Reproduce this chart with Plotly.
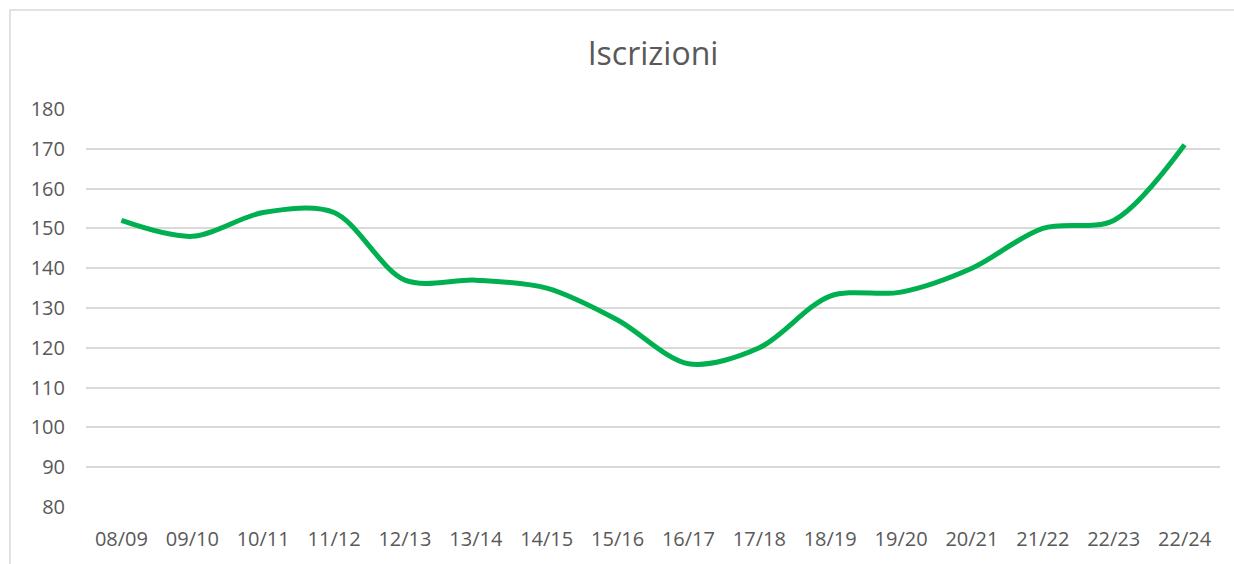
import plotly.graph_objects as go

categories = ["08/09", "09/10", "10/11", "11/12", "12/13", "13/14", "14/15", "15/16",
              "16/17", "17/18", "18/19", "19/20", "20/21", "21/22", "22/23", "22/24"]
iscrizioni = [152, 148, 154, 154, 137, 137, 135, 127, 116, 120, 133, 134, 140, 150, 152, 171]
y_ticks = list(range(80, 181, 10))

FONT = "Open Sans"
GREY = "#595959"

fig = go.Figure()
fig.add_trace(go.Scatter(
    x=list(range(len(categories))), y=iscrizioni, mode="lines",
    line=dict(color="#00B050", width=5, shape="spline", smoothing=0.9),
    hoverinfo="x+y", showlegend=False,
))

fig.update_layout(
    width=1234, height=564,
    margin=dict(l=86, r=14, t=109, b=57),
    paper_bgcolor="white", plot_bgcolor="white",
    title=dict(text="Iscrizioni", x=0.5, xanchor="center", xref="paper",
               y=1 - 54 / 564, yanchor="middle",
               font=dict(family=FONT, size=32, color=GREY)),
    xaxis=dict(
        range=[-0.5, len(categories) - 0.5],
        tickmode="array", tickvals=list(range(len(categories))), ticktext=categories,
        showgrid=False, zeroline=False, showline=False, ticks="",
        tickfont=dict(family=FONT, size=20, color=GREY),
        ticklabelstandoff=18,
    ),
    yaxis=dict(
        range=[80, 180], tickmode="array", tickvals=y_ticks,
        showgrid=True, gridcolor="#D9D9D9", gridwidth=1.5,
        zeroline=False, showline=False, ticks="",
        tickfont=dict(family=FONT, size=20, color=GREY),
        ticklabelstandoff=20,
    ),
    shapes=[dict(type="rect", xref="paper", yref="paper",
                 x0=(10 - 86) / 1134, x1=(1240 - 86) / 1134,
                 y0=(507 - 570) / 398, y1=1 + (109 - 10) / 398,
                 line=dict(color="#D9D9D9", width=1.5), layer="below")],
)

fig.write_html(
    "out.html",
    config={"displayModeBar": False},
    post_script="document.body.style.margin='0';document.body.style.overflow='hidden';",
)
